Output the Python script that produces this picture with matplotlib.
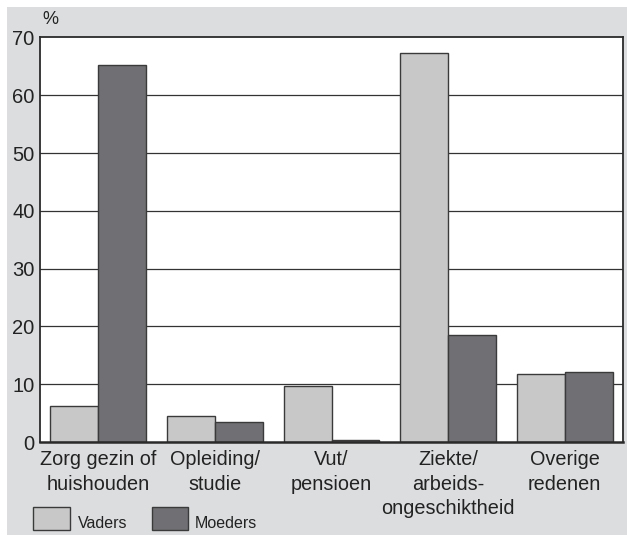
import numpy as np
import matplotlib
matplotlib.use("Agg")
import matplotlib.pyplot as plt
from matplotlib.patches import Rectangle

plt.rcParams["font.family"] = ["Liberation Sans", "DejaVu Sans"]

categories = ["Zorg gezin of\nhuishouden", "Opleiding/\nstudie", "Vut/\npensioen",
              "Ziekte/\narbeids-\nongeschiktheid", "Overige\nredenen"]
vaders = [6.3, 4.5, 9.7, 67.4, 11.7]
moeders = [65.2, 3.4, 0.3, 18.6, 12.2]
series_names = ["Vaders", "Moeders"]
yticks = [0, 10, 20, 30, 40, 50, 60, 70]

W, H = 627, 539
fig = plt.figure(figsize=(W / 100, H / 100), dpi=100)
fig.patch.set_facecolor("white")

# grijze achtergrond (achter de assen)
bg = Rectangle((7 / W, 1 - 535 / H), 1 - 7 / W, (535 - 7) / H,
               transform=fig.transFigure, facecolor="#dcdddf", edgecolor="none", zorder=-10)
fig.patches.append(bg)

ax = fig.add_axes([40 / W, 1 - 442 / H, (623 - 40) / W, (442 - 37.5) / H])
ax.set_facecolor("white")

x = np.arange(len(categories))
w = 0.41
ax.bar(x - w / 2, vaders, w, color="#c8c8c8", edgecolor="#3a3a3a", linewidth=1.0, zorder=3)
ax.bar(x + w / 2, moeders, w, color="#707074", edgecolor="#3a3a3a", linewidth=1.0, zorder=3)

ax.set_xlim(-0.5, len(categories) - 0.5)
ax.set_ylim(0, 70)
ax.set_yticks(yticks)
ax.set_yticklabels([str(v) for v in yticks], fontsize=14.5, color="#222222")
ax.tick_params(axis="y", length=0, pad=4)
ax.set_xticks(x)
ax.set_xticklabels(categories, fontsize=14.3, color="#222222", linespacing=1.36)
ax.tick_params(axis="x", length=0, pad=6)
for v in yticks[1:-1]:
    ax.axhline(v, color="#333333", linewidth=0.9, zorder=1)
for s in ax.spines.values():
    s.set_color("#2a2a2a")
    s.set_linewidth(1.3)
ax.spines["bottom"].set_linewidth(1.8)
ax.spines["bottom"].set_zorder(4)

fig.text(42 / W, 1 - 20 / H, "%", fontsize=13, color="#222222", va="center", ha="left")

# legenda
for (x0, x1, tx), name, col in zip([(33, 70, 78), (152, 188, 195)], series_names,
                                    ["#c8c8c8", "#707074"]):
    r = Rectangle((x0 / W, 1 - 530 / H), (x1 - x0) / W, 23 / H, transform=fig.transFigure,
                  facecolor=col, edgecolor="#3a3a3a", linewidth=1.0)
    fig.patches.append(r)
    fig.text(tx / W, 1 - 523 / H, name, fontsize=11.5, color="#222222", va="center", ha="left")

fig.savefig("out.png", dpi=100)
